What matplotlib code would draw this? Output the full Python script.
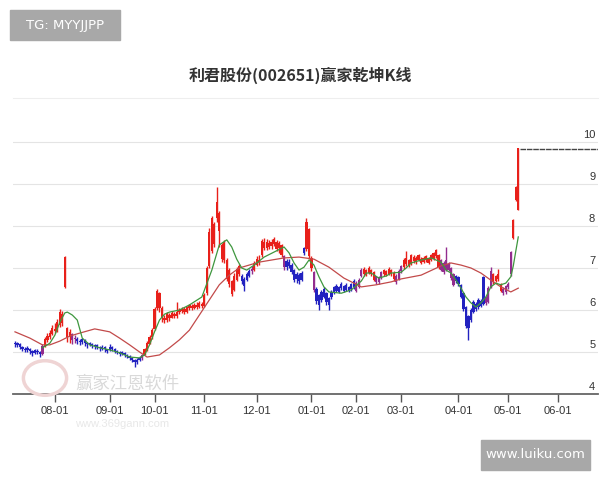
import matplotlib
matplotlib.use("Agg")
import matplotlib.pyplot as plt
from matplotlib.patches import Circle, Rectangle
import numpy as np

# daily candles, one row per trading day (open, close, high, low)
opens = [
    5.22, 5.17, 5.20, 5.12, 5.08, 5.04, 5.08, 5.02, 4.98, 5.03,
    5.00, 4.96, 5.15, 5.28, 5.36, 5.42, 5.55, 5.50, 5.65, 5.90,
    6.55, 5.58, 5.35, 5.42, 5.30, 5.32, 5.26, 5.24, 5.28, 5.22,
    5.18, 5.20, 5.14, 5.16, 5.12, 5.08, 5.12, 5.06, 5.04, 5.11,
    5.08, 5.02, 4.99, 4.96, 4.98, 4.93, 4.90, 4.86, 4.82, 4.76,
    4.81, 4.86, 4.94, 5.05, 5.20, 5.35, 5.55, 6.05, 6.40, 6.05,
    5.80, 5.76, 5.88, 5.82, 5.90, 5.86, 5.95, 5.98, 6.02, 5.96,
    6.05, 6.10, 6.05, 6.12, 6.08, 6.15, 6.10, 6.40, 7.05, 7.40,
    8.05, 8.19, 8.30, 7.55, 7.20, 7.20, 6.95, 6.70, 6.48, 6.72,
    6.86, 6.82, 6.75, 6.72, 6.82, 6.92, 6.96, 7.08, 7.20, 7.30,
    7.62, 7.48, 7.60, 7.52, 7.58, 7.62, 7.48, 7.55, 7.28, 7.02,
    7.15, 7.08, 6.95, 6.75, 6.84, 6.72, 7.35, 7.45, 7.92, 7.25,
    6.90, 6.50, 6.35, 6.25, 6.32, 6.40, 6.28, 6.30, 6.42, 6.58,
    6.44, 6.52, 6.58, 6.48, 6.55, 6.50, 6.55, 6.64, 6.55, 6.80,
    6.86, 6.95, 6.88, 6.95, 6.90, 6.80, 6.66, 6.78, 6.86, 6.92,
    6.86, 6.95, 6.88, 6.82, 6.75, 6.92, 7.02, 7.10, 7.20, 7.10,
    7.26, 7.14, 7.20, 7.22, 7.15, 7.18, 7.25, 7.20, 7.22, 7.28,
    7.30, 7.18, 7.12, 6.95, 7.10, 7.00, 6.85, 6.68, 6.78, 6.60,
    6.40, 6.08, 5.86, 5.76, 5.96, 6.15, 6.06, 6.22, 6.15, 6.30,
    6.18, 6.55, 6.85, 6.70, 6.74, 6.62, 6.50, 6.42, 6.55, 6.85,
    7.71, 8.62, 8.38,
]
closes = [
    5.18, 5.22, 5.12, 5.08, 5.05, 5.10, 5.02, 4.98, 5.04, 5.00,
    4.96, 5.15, 5.30, 5.38, 5.45, 5.58, 5.50, 5.72, 5.95, 5.68,
    7.26, 5.36, 5.48, 5.28, 5.34, 5.26, 5.24, 5.30, 5.22, 5.18,
    5.21, 5.15, 5.17, 5.12, 5.09, 5.13, 5.06, 5.03, 5.12, 5.08,
    5.02, 4.99, 4.96, 4.98, 4.93, 4.90, 4.86, 4.82, 4.76, 4.82,
    4.86, 4.92, 5.06, 5.22, 5.36, 5.52, 6.02, 6.45, 6.05, 5.80,
    5.76, 5.90, 5.82, 5.92, 5.85, 5.96, 5.99, 6.03, 5.95, 6.06,
    6.11, 6.04, 6.12, 6.07, 6.16, 6.10, 6.36, 7.00, 7.85, 8.20,
    7.58, 8.57, 7.88, 7.22, 7.62, 6.75, 6.62, 6.38, 6.82, 6.98,
    7.05, 6.68, 6.58, 6.86, 6.94, 6.98, 7.12, 7.22, 7.14, 7.65,
    7.48, 7.62, 7.50, 7.62, 7.68, 7.46, 7.60, 7.32, 7.02, 7.16,
    7.05, 6.90, 6.72, 6.86, 6.70, 6.88, 7.48, 8.10, 7.28, 7.00,
    6.48, 6.22, 6.12, 6.44, 6.50, 6.18, 6.12, 6.44, 6.55, 6.46,
    6.55, 6.62, 6.46, 6.60, 6.46, 6.62, 6.70, 6.46, 6.72, 6.95,
    6.98, 6.84, 7.00, 6.86, 6.72, 6.66, 6.78, 6.90, 6.95, 6.83,
    6.98, 6.86, 6.74, 6.66, 6.94, 7.05, 7.20, 7.25, 7.06, 7.30,
    7.16, 7.25, 7.30, 7.13, 7.25, 7.28, 7.13, 7.30, 7.35, 7.43,
    7.02, 6.96, 6.90, 7.20, 6.96, 6.76, 6.60, 6.80, 6.62, 6.32,
    6.02, 5.62, 5.56, 6.00, 6.20, 6.02, 6.25, 6.10, 6.78, 6.16,
    6.52, 6.94, 6.66, 6.80, 6.86, 6.46, 6.40, 6.56, 6.62, 7.38,
    8.14, 8.93, 9.86,
]
highs = [
    5.26, 5.25, 5.22, 5.15, 5.12, 5.14, 5.10, 5.05, 5.08, 5.07,
    5.02, 5.20, 5.35, 5.45, 5.52, 5.65, 5.70, 5.78, 6.02, 5.98,
    7.28, 5.60, 5.55, 5.46, 5.40, 5.36, 5.30, 5.33, 5.30, 5.24,
    5.25, 5.22, 5.20, 5.18, 5.14, 5.16, 5.14, 5.08, 5.18, 5.14,
    5.10, 5.05, 5.02, 5.02, 5.00, 4.96, 4.92, 4.88, 4.84, 4.86,
    4.90, 4.96, 5.10, 5.26, 5.40, 5.58, 6.08, 6.50, 6.42, 6.10,
    5.88, 5.95, 5.92, 5.98, 5.95, 6.20, 6.05, 6.08, 6.06, 6.10,
    6.15, 6.14, 6.16, 6.18, 6.22, 6.20, 6.40, 7.05, 7.95, 8.25,
    8.10, 8.93, 8.35, 7.60, 7.67, 7.25, 7.00, 6.72, 6.88, 7.02,
    7.10, 6.85, 6.78, 6.90, 6.98, 7.04, 7.16, 7.28, 7.30, 7.70,
    7.72, 7.68, 7.66, 7.70, 7.74, 7.66, 7.64, 7.58, 7.30, 7.22,
    7.22, 7.12, 6.98, 6.90, 6.88, 6.92, 7.50, 8.20, 7.95, 7.28,
    6.92, 6.55, 6.38, 6.48, 6.54, 6.42, 6.30, 6.48, 6.58, 6.62,
    6.58, 6.66, 6.60, 6.64, 6.58, 6.65, 6.75, 6.68, 6.76, 7.00,
    7.02, 6.98, 7.04, 6.98, 6.92, 6.82, 6.80, 6.94, 6.98, 6.95,
    7.02, 6.98, 6.92, 6.85, 6.98, 7.08, 7.24, 7.40, 7.22, 7.34,
    7.30, 7.28, 7.34, 7.26, 7.28, 7.30, 7.27, 7.33, 7.38, 7.46,
    7.34, 7.22, 7.16, 7.50, 7.14, 7.02, 6.88, 6.84, 6.80, 6.62,
    6.42, 6.10, 5.88, 6.04, 6.24, 6.18, 6.28, 6.26, 6.82, 6.34,
    6.56, 7.02, 6.88, 6.84, 6.98, 6.64, 6.54, 6.60, 6.66, 7.40,
    8.16, 8.95, 9.86,
]
lows = [
    5.12, 5.12, 5.08, 5.02, 5.00, 5.00, 4.95, 4.90, 4.95, 4.96,
    4.88, 4.94, 5.12, 5.25, 5.32, 5.40, 5.45, 5.48, 5.60, 5.62,
    6.52, 5.25, 5.22, 5.18, 5.22, 5.20, 5.16, 5.20, 5.15, 5.10,
    5.14, 5.10, 5.08, 5.06, 5.03, 5.05, 5.00, 4.98, 5.02, 5.03,
    4.98, 4.95, 4.90, 4.92, 4.88, 4.85, 4.80, 4.76, 4.64, 4.72,
    4.78, 4.82, 4.92, 5.02, 5.18, 5.32, 5.52, 6.00, 5.95, 5.72,
    5.68, 5.72, 5.75, 5.80, 5.80, 5.82, 5.90, 5.92, 5.90, 5.92,
    6.00, 6.00, 6.02, 6.03, 6.05, 6.04, 6.06, 6.35, 7.00, 7.35,
    7.50, 8.10, 7.50, 7.15, 7.12, 6.68, 6.55, 6.33, 6.45, 6.68,
    6.82, 6.62, 6.45, 6.68, 6.78, 6.86, 6.92, 7.04, 7.08, 7.26,
    7.42, 7.44, 7.45, 7.46, 7.52, 7.40, 7.36, 7.26, 6.95, 6.96,
    7.00, 6.86, 6.66, 6.64, 6.62, 6.68, 7.32, 7.40, 7.22, 6.92,
    6.42, 6.15, 6.00, 6.20, 6.28, 6.12, 6.00, 6.26, 6.38, 6.42,
    6.40, 6.48, 6.42, 6.45, 6.42, 6.46, 6.50, 6.42, 6.52, 6.78,
    6.82, 6.80, 6.85, 6.82, 6.68, 6.62, 6.62, 6.75, 6.82, 6.80,
    6.84, 6.82, 6.70, 6.62, 6.72, 6.88, 6.98, 7.05, 7.02, 7.08,
    7.12, 7.10, 7.16, 7.10, 7.12, 7.14, 7.10, 7.17, 7.18, 7.24,
    6.98, 6.92, 6.86, 6.92, 6.92, 6.72, 6.56, 6.64, 6.58, 6.28,
    5.98, 5.58, 5.29, 5.72, 5.92, 5.98, 6.02, 6.06, 6.12, 6.12,
    6.16, 6.52, 6.62, 6.66, 6.70, 6.42, 6.36, 6.38, 6.50, 6.82,
    7.70, 8.60, 8.38,
]
# trend colour of each candle: r = red, b = blue, p = purple
states = (
    "bbbbbbbbbbbp" "rrrrrrrrrrr" "pp" "bbbbbbbbbbbbbbbbbbbbbbbbbb" "p"
    "rrrrrrrrrrrrrrrrrrrrrrrrrrrrrrrrrrrrrrr" "bbbb" "p" "rrrrrrrrrrrr" "p"
    "bbbbbbbb" "rrr" "p" "bbbbbbbbbbbbbbbb" "ppp" "rrrrr" "ppp" "rrrrr" "ppp"
    "rrrrrrrrrrrrrrr" "pppppp" "bbbbbbbbbbbb" "ppp" "rrrr" "pppp" "rrr"
)

# moving averages (day index, value)
ma_long_x = [0, 6, 11, 14, 18, 22, 26, 32, 38, 42, 46, 50, 53, 58, 62, 66, 70, 74,
             78, 82, 86, 90, 94, 98, 108, 114, 120, 126, 132, 139, 145, 151, 155,
             163, 171, 175, 179, 183, 187, 191, 195, 199, 202]
ma_long_y = [5.48, 5.33, 5.17, 5.17, 5.26, 5.38, 5.45, 5.55, 5.48, 5.33, 5.17, 5.00,
             4.88, 4.93, 5.10, 5.29, 5.52, 5.88, 6.24, 6.60, 6.83, 7.00, 7.07, 7.14,
             7.24, 7.26, 7.21, 7.02, 6.76, 6.55, 6.60, 6.67, 6.74, 6.83, 7.05, 7.12,
             7.07, 7.00, 6.88, 6.71, 6.55, 6.43, 6.52]
ma_short_x = [11, 14, 16, 18, 20, 21, 23, 25, 27, 30, 34, 38, 42, 46, 50, 52, 54, 56,
              58, 60, 62, 66, 70, 75, 79, 82, 85, 87, 89, 91, 93, 96, 100, 104, 108,
              110, 112, 114, 116, 118, 120, 122, 124, 126, 131, 135, 139, 141, 143,
              146, 149, 151, 155, 157, 159, 163, 167, 171, 173, 175, 177, 179, 181,
              183, 185, 187, 189, 191, 193, 195, 197, 199, 200, 201, 202]
ma_short_y = [5.10, 5.21, 5.40, 5.71, 5.93, 5.95, 5.88, 5.76, 5.33, 5.17, 5.10, 5.05,
              4.98, 4.88, 4.86, 4.93, 5.17, 5.48, 5.76, 5.90, 5.95, 6.00, 6.12, 6.31,
              6.95, 7.55, 7.67, 7.50, 7.21, 7.00, 6.95, 7.07, 7.26, 7.38, 7.50, 7.36,
              7.12, 6.95, 7.02, 7.19, 7.07, 6.79, 6.55, 6.43, 6.40, 6.48, 6.69, 6.88,
              6.88, 6.76, 6.81, 6.88, 6.90, 7.00, 7.12, 7.19, 7.24, 7.14, 6.95, 6.88,
              6.71, 6.52, 6.31, 6.17, 6.07, 6.17, 6.31, 6.55, 6.64, 6.60, 6.64, 6.79,
              7.05, 7.40, 7.74]

tick_pos = [16, 38, 56, 76, 97, 119, 137, 155, 178, 198, 218]
tick_labels = ["08-01", "09-01", "10-01", "11-01", "12-01", "01-01",
               "02-01", "03-01", "04-01", "05-01", "06-01"]
price_levels = [4, 5, 6, 7, 8, 9, 10]

title = "利君股份(002651)赢家乾坤K线"

palette = {"r": "#e8201a", "b": "#2222c0", "p": "#932c8e"}

fig = plt.figure(figsize=(6, 4.8), dpi=100)
fig.patch.set_facecolor("white")
ax = fig.add_axes([13 / 600, 86 / 480, 585 / 600, 296 / 480])

o = np.array(opens)
c = np.array(closes)
h = np.array(highs)
l = np.array(lows)
x = np.arange(len(o))
cols = [palette[s] for s in states[:len(o)]]

ax.vlines(x, l, h, colors=cols, linewidth=1.0, zorder=3)
body_bottom = np.minimum(o, c)
body_height = np.maximum(np.abs(c - o), 0.03)
ax.bar(x, body_height, bottom=body_bottom, width=0.9, color=cols,
       linewidth=0, zorder=3)

ax.plot(ma_long_x, ma_long_y, color="#c24a4a", linewidth=0.9, zorder=4)
ax.plot(ma_short_x, ma_short_y, color="#3e973e", linewidth=0.9, zorder=4)

# last price marker
ax.plot([x[-1] + 0.8, 234], [h[-1] - 0.03] * 2, color="#444444",
        linewidth=1.0, linestyle=(0, (4, 0.6)), zorder=4)

ax.set_xlim(-0.8, 234)
ax.set_ylim(4, 4 + 296 / 42)

ax.set_yticks(price_levels)
ax.yaxis.grid(True, color="#e4e4e4", linewidth=0.8)
ax.tick_params(axis="y", left=False, labelleft=False)
for v in price_levels:
    ax.annotate(str(v), xy=(1, v), xycoords=("axes fraction", "data"),
                xytext=(-2, 1.5), textcoords="offset points", ha="right",
                va="bottom", fontsize=8, color="#333333",
                family="Liberation Sans")

ax.set_xticks(tick_pos)
ax.set_xticklabels(tick_labels, fontsize=8, color="#333333", family="Liberation Sans")
ax.tick_params(axis="x", direction="out", length=6, width=1, color="#555555", pad=3)

for side in ["left", "right"]:
    ax.spines[side].set_visible(False)
ax.spines["top"].set_color("#eeeeee")
ax.spines["top"].set_linewidth(0.8)
ax.spines["bottom"].set_color("#666666")
ax.spines["bottom"].set_linewidth(1.3)
ax.set_axisbelow(True)

fig.text(0.5, 1 - 75 / 480, title, ha="center", va="center", fontsize=11.5,
         fontweight="bold", color="#333333", family=["Noto Sans CJK SC", "DejaVu Sans"])

# faded software watermark, bottom left
fig.patches.append(Circle((45 / 600, 1 - 378 / 480), 0.036, transform=fig.transFigure,
                          fill=False, edgecolor="#efd4d4", linewidth=2.5, zorder=1))
fig.text(75 / 600, 1 - 384 / 480, "赢家江恩软件", ha="left", va="center", fontsize=12.5,
         color="#d9d9d9", family=["Noto Sans CJK SC", "DejaVu Sans"], zorder=1)
fig.text(75 / 600, 1 - 424 / 480, "www.369gann.com", ha="left", va="center",
         fontsize=8, color="#e8e8e8", family="Liberation Sans", zorder=1)

# corner stamps
fig.patches.append(Rectangle((10 / 600, 1 - 40 / 480), 110 / 600, 30 / 480,
                             transform=fig.transFigure, color="#a8a8a8", zorder=5))
fig.text(65 / 600, 1 - 25 / 480, "TG: MYYJJPP", ha="center", va="center",
         fontsize=9.5, color="white", family="DejaVu Sans", zorder=6)
fig.patches.append(Rectangle((481 / 600, 1 - 470 / 480), 109 / 600, 30 / 480,
                             transform=fig.transFigure, color="#a8a8a8", zorder=5))
fig.text(535 / 600, 1 - 455 / 480, "www.luiku.com", ha="center", va="center",
         fontsize=9.5, color="white", family="DejaVu Sans", zorder=6)

fig.savefig("out.png", dpi=100)
